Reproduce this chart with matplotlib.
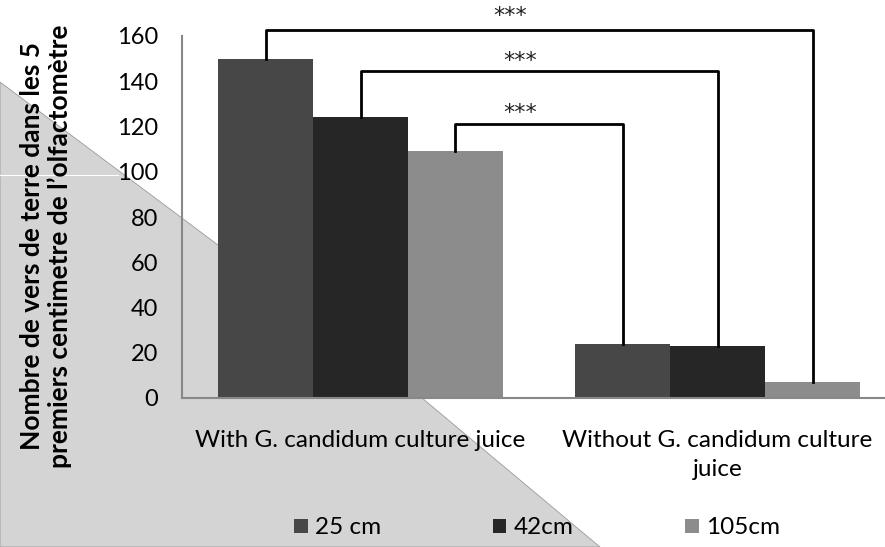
import matplotlib.pyplot as plt
from matplotlib.patches import Polygon, Patch
from matplotlib.lines import Line2D

plt.rcParams['font.family'] = ['Lato', 'DejaVu Sans']

# data
categories = ['With G. candidum culture juice', 'Without G. candidum culture\njuice']
series_names = ['25 cm', '42cm', '105cm']
values_25 = [150, 24]
values_42 = [124, 23]
values_105 = [109, 7]
colors = ['#474747', '#262626', '#8c8c8c']
y_ticks = [0, 20, 40, 60, 80, 100, 120, 140, 160]

# significance brackets: (series, group) left end, (series, group) right end, height
brackets = [((0, 0), (2, 1), 162.5), ((1, 0), (1, 1), 144.5), ((2, 0), (0, 1), 121)]
star_pos = [(0.419, 169.0), (0.447, 149.0), (0.447, 126.0)]

W, H = 885, 547
fig = plt.figure(figsize=(W / 100, H / 100), dpi=100)
fig.patch.set_facecolor('white')

# grey background shape in the lower left
pts = [(0, 82), (218, 245), (422, 398), (600, 547), (0, 547)]
bg = Polygon([(x / W, 1 - y / H) for x, y in pts], closed=True, transform=fig.transFigure,
             facecolor='#d4d4d4', edgecolor='#9a9a9a', lw=0.6, zorder=-5)
fig.add_artist(bg)
fig.add_artist(Line2D([0, 118 / W], [1 - 175 / H] * 2, transform=fig.transFigure,
                      color='white', lw=0.8, zorder=-4))

ax = fig.add_axes([182 / W, 1 - 398 / H, 703 / W, 362 / H])
ax.set_facecolor('none')

all_values = [values_25, values_42, values_105]
bw = 0.266
offsets = [-bw, 0, bw]
for vals, off, col, name in zip(all_values, offsets, colors, series_names):
    ax.bar([i + off for i in range(len(categories))], vals, width=bw, color=col,
           label=name, zorder=2)

for (s1, g1), (s2, g2), h in brackets:
    x1 = g1 + offsets[s1]
    x2 = g2 + offsets[s2]
    y1 = all_values[s1][g1]
    y2 = all_values[s2][g2]
    ax.plot([x1, x1, x2, x2], [y1, h, h, y2], color='black', lw=2, clip_on=False, zorder=3)

for x, y in star_pos:
    ax.text(x, y, '***', ha='center', va='center', fontsize=16, color='#222222',
            family='DejaVu Sans')

ax.set_xlim(-0.5, 1.469)
ax.set_ylim(0, 160)
ax.set_yticks(y_ticks)
ax.set_xticks(range(len(categories)))
ax.set_xticklabels(categories, fontsize=17.5, linespacing=1.5)
ax.tick_params(axis='y', labelsize=17, length=0, pad=17)
ax.tick_params(axis='x', length=0, pad=23)
for s in ['top', 'right']:
    ax.spines[s].set_visible(False)
for s in ['left', 'bottom']:
    ax.spines[s].set_color('#888888')
    ax.spines[s].set_linewidth(1.5)

fig.text(46 / W, 1 - 246 / H,
         'Nombre de vers de terre dans les 5\npremiers centimetre de l\u2019olfactomètre',
         rotation=90, ha='center', va='center', fontsize=19, fontweight='bold',
         linespacing=1.2)

handles = [Patch(facecolor=c) for c in colors]
fig.legend(handles, series_names, loc='center', bbox_to_anchor=(537 / W, 1 - 528 / H),
           ncol=3, frameon=False, fontsize=17.5, handlelength=0.55, handleheight=0.55,
           handletextpad=0.3, columnspacing=4.6)

fig.savefig('out.png', dpi=100)
